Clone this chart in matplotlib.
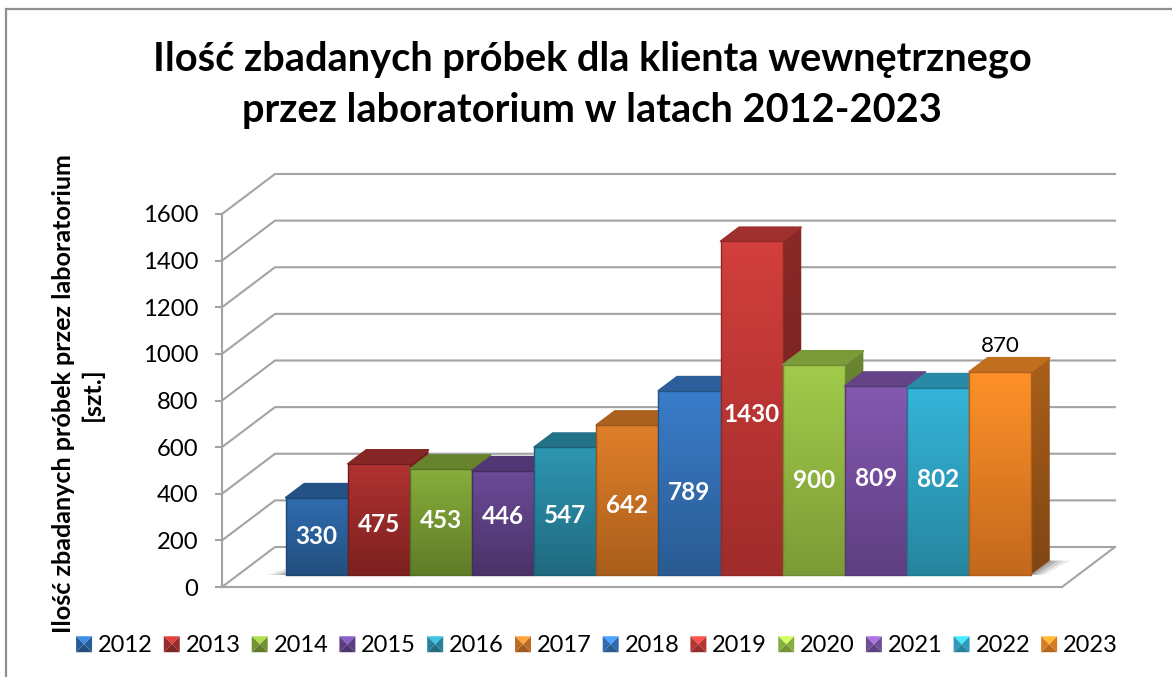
import matplotlib
matplotlib.use("Agg")
import matplotlib.pyplot as plt
from matplotlib.colors import LinearSegmentedColormap, to_rgb
from matplotlib.legend_handler import HandlerPatch
from matplotlib.lines import Line2D
from matplotlib.patches import Patch, Polygon
import numpy as np

plt.rcParams["font.family"] = ["Lato", "DejaVu Sans"]

YEARS = ["2012", "2013", "2014", "2015", "2016", "2017",
         "2018", "2019", "2020", "2021", "2022", "2023"]
VALUES = [330, 475, 453, 446, 547, 642, 789, 1430, 900, 809, 802, 870]
COLOR_TOP = ["#2f6cb0", "#b03231", "#87ad3b", "#6b4a98", "#2e96b2", "#e07f2a",
             "#3a7dca", "#d23f3c", "#a2cb4b", "#8459b2", "#35b5da", "#ff9129"]
COLOR_BOTTOM = ["#234f7e", "#7c2120", "#5f7c28", "#4a3368", "#206a80", "#a95e1b",
                "#2a5b92", "#a02c2b", "#7b9b36", "#5e3f80", "#26859f", "#c2691d"]
YTICKS = [0, 200, 400, 600, 800, 1000, 1200, 1400, 1600]
TITLE = "Ilość zbadanych próbek dla klienta wewnętrznego\nprzez laboratorium w latach 2012-2023"
YLABEL = "Ilość zbadanych próbek przez laboratorium\n[szt.]"

W, H = 1172, 677
GRID = "#a3a3a3"

# perspektywa: przesunięcie tylnej ściany (x w kategoriach, y w jednostkach osi)
X_PAD = 0.76
BAR_W = 1.0
PX_PER_X = 840 / (12 + 2 * X_PAD)
PX_PER_Y = 373 / 1600
DEPTH_X = 53 / PX_PER_X
DEPTH_Y = 40 / PX_PER_Y
BAR_D0 = 0.31   # początek słupka na podłodze (ułamek głębokości)
BAR_DD = 0.35   # głębokość słupka
LABEL_SHIFT = [-2, 3, -4, -8, 2, 3, 8, 4, 8, -4, -4]  # przesunięcie etykiet w px


def darker(color, f):
    return tuple(c * f for c in to_rgb(color))


def pt(x, v, d):
    return (x + d * DEPTH_X, v + d * DEPTH_Y)


def grad_poly(ax, pts, top, bottom, zorder):
    """wielokąt z pionowym gradientem"""
    pts = np.array(pts)
    cmap = LinearSegmentedColormap.from_list("g", [bottom, top])
    g = np.linspace(1, 0, 128).reshape(-1, 1)
    im = ax.imshow(g, cmap=cmap, aspect="auto", vmin=0, vmax=1, zorder=zorder,
                   extent=(pts[:, 0].min(), pts[:, 0].max(), pts[:, 1].min(), pts[:, 1].max()))
    clip = Polygon(pts, closed=True, transform=ax.transData)
    im.set_clip_path(clip)


class BevelHandler(HandlerPatch):
    def create_artists(self, legend, orig, xd, yd, width, height, fontsize, trans):
        c = orig.get_facecolor()
        s = 11.5
        x0, y0 = -xd + (width - s) / 2, -yd + (height - s) / 2
        cx, cy = x0 + s / 2, y0 + s / 2
        corners = [(x0, y0), (x0 + s, y0), (x0 + s, y0 + s), (x0, y0 + s)]
        shades = [0.72, 0.85, 1.3, 0.85]
        arts = []
        for i, f in enumerate(shades):
            col = tuple(min(1, v * f) for v in c[:3])
            arts.append(Polygon([corners[i], corners[(i + 1) % 4], (cx, cy)],
                                facecolor=col, edgecolor="none", transform=trans))
        return arts


fig = plt.figure(figsize=(W / 100, H / 100), dpi=100)
ax = fig.add_axes([222 / W, (H - 587) / H, 840 / W, 373 / H])
ax.patch.set_alpha(0)

# ramka wykresu: tylko góra i lewa strona
fig.add_artist(Line2D([6 / W, 6 / W, 1], [0, 1 - 9 / H, 1 - 9 / H], transform=fig.transFigure,
                      color="#8f8f8f", lw=1.6, solid_joinstyle="miter"))

# ściany i siatka
x0, x1 = -0.5 - X_PAD, 11.5 + X_PAD
for v in YTICKS:
    xa, ya = pt(x0, v, 1)
    xb, yb = pt(x1, v, 1)
    ax.plot([x0, xa, xb], [v, ya, yb], color=GRID, lw=1.5, clip_on=False, zorder=1,
            solid_joinstyle="miter")
xb, yb = pt(x1, 0, 1)
ax.plot([x1, xb], [0, yb], color=GRID, lw=1.5, clip_on=False, zorder=1)

# cień na podłodze
for grow, a in zip([1.0, 0.7, 0.4, 0.15], [0.10, 0.14, 0.18, 0.22]):
    xl, yl = pt(-0.5, 0, BAR_D0)
    ax.add_patch(Polygon([(xl - 0.30 * grow, yl), (xl, yl),
                          (xl, yl + 22 * grow), (xl - 0.02, yl + 22 * grow)],
                         facecolor="#404040", alpha=a, edgecolor="none", zorder=1.5, clip_on=False))
    rb = pt(11.5, 0, BAR_D0 + BAR_DD)
    rf = pt(11.5, 0, BAR_D0)
    ax.add_patch(Polygon([rf, rb, (rb[0] + 0.33 * grow, rb[1]), (rf[0] + 0.2 * grow, rf[1] - 2)],
                         facecolor="#404040", alpha=a, edgecolor="none", zorder=1.5, clip_on=False))

# słupki od lewej do prawej
for i, (val, ct, cb) in enumerate(zip(VALUES, COLOR_TOP, COLOR_BOTTOM)):
    z = 3 + i
    l, r = i - BAR_W / 2, i + BAR_W / 2
    a, b = BAR_D0, BAR_D0 + BAR_DD
    side = [pt(r, 0, a), pt(r, 0, b), pt(r, val, b), pt(r, val, a)]
    grad_poly(ax, side, darker(ct, 0.66), darker(cb, 0.66), z)
    ax.add_patch(Polygon([pt(l, val, a), pt(r, val, a), pt(r, val, b), pt(l, val, b)],
                         facecolor=darker(ct, 0.76), edgecolor=darker(ct, 0.76), lw=1.2,
                         joinstyle="round", zorder=z + 0.1))
    front = [pt(l, 0, a), pt(r, 0, a), pt(r, val, a), pt(l, val, a)]
    grad_poly(ax, front, ct, cb, z + 0.2)
    ax.add_patch(Polygon(front, facecolor="none", edgecolor=darker(cb, 0.9), lw=1.0,
                         joinstyle="round", zorder=z + 0.3))
    if i < len(VALUES) - 1:
        tx, ty = pt(i, val * 0.5, a)
        ax.text(tx, ty - 10 - LABEL_SHIFT[i] / PX_PER_Y, str(val), color="white", fontsize=17.5,
                fontweight="bold", ha="center", va="center", zorder=30)
    else:
        tx, ty = pt(i, val, b)
        ax.text(tx - 0.3, ty + 6, str(val), color="black", fontsize=16,
                ha="center", va="bottom", zorder=30)

ax.set_xlim(x0, x1)
ax.set_ylim(0, 1600)
ax.set_xticks([])
ax.set_yticks(YTICKS)
ax.tick_params(axis="y", length=5, width=1.5, color=GRID, labelsize=17.2, pad=12, labelcolor="black")
for name in ["top", "right"]:
    ax.spines[name].set_visible(False)
for name in ["left", "bottom"]:
    ax.spines[name].set_color(GRID)
    ax.spines[name].set_linewidth(1.5)

fig.text(592 / W, 1 - 85 / H, TITLE, ha="center", va="center", fontsize=28.6,
         fontweight="bold", linespacing=1.45)
fig.text(78 / W, 1 - 394 / H, YLABEL, ha="center", va="center", rotation=90,
         fontsize=18.1, fontweight="bold", linespacing=1.3)

handles = [Patch(facecolor=c, label=y) for c, y in zip(COLOR_TOP, YEARS)]
fig.legend(handles=handles, loc="center", bbox_to_anchor=(597 / W, 1 - 646 / H), ncol=12,
           frameon=False, fontsize=17, columnspacing=0.465, handlelength=0.68,
           handletextpad=0.25, borderpad=0, handler_map={Patch: BevelHandler()})

plt.savefig("out.png", dpi=100)
plt.close()
